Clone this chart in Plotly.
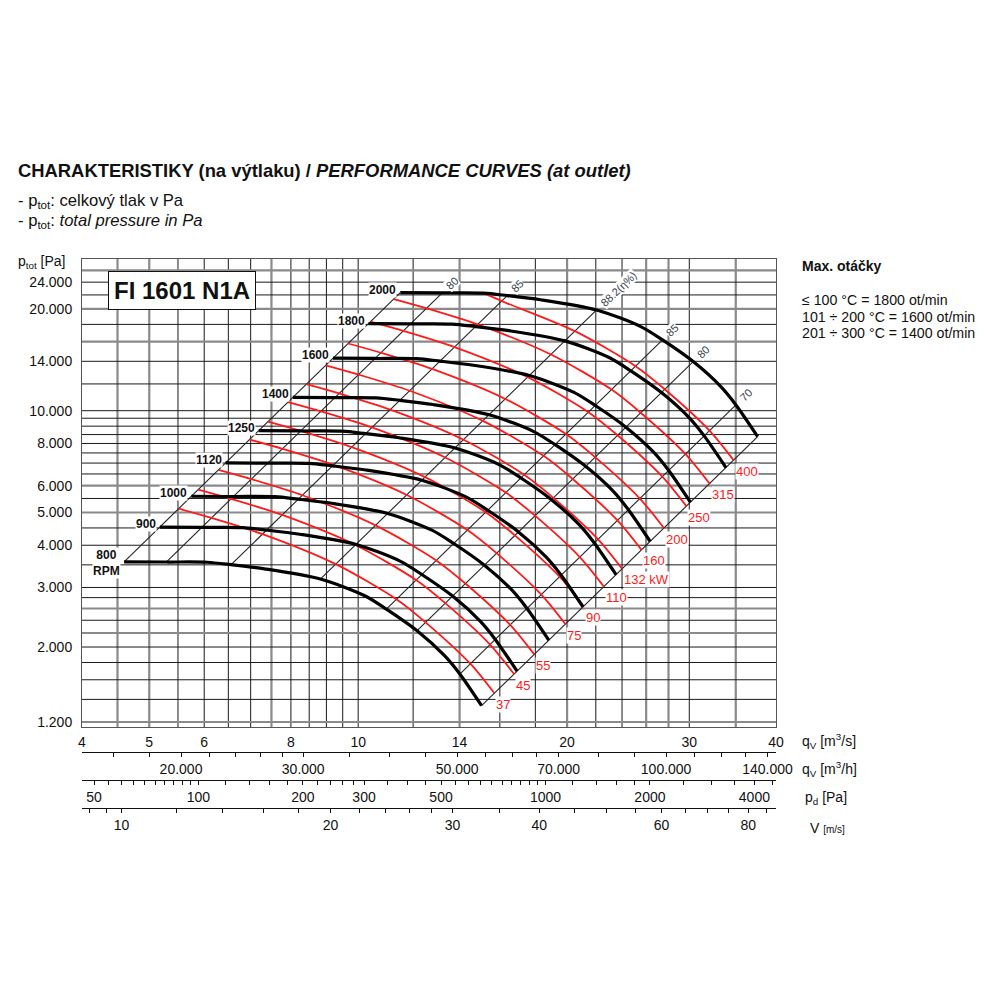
import math
import plotly.graph_objects as go

FONT = "Liberation Sans, Arial, sans-serif"

# ---------------- axis ranges ----------------
Q_MIN, Q_MAX = 4, 40          # m3/s
P_MIN, P_MAX = 1160, 28100    # Pa
DUCT_AREA = 0.456             # m2 (outlet), for velocity / dynamic pressure scales
RHO = 1.2

# ---------------- grid ----------------
grid_q_black = [5.5, 6, 6.5, 7, 8, 8.5, 9, 9.5, 10, 12, 16, 18, 22, 24, 30]
grid_q_gray = [4.5, 5, 7.5, 14, 20, 26, 28, 35]
grid_p_black = [1400, 1600, 1800, 2000, 2400, 2800, 3000, 3500, 4000, 4500, 5500, 6500,
                7000, 7500, 8000, 8500, 9000, 9500, 10000, 12000, 14000, 18000, 22000, 24000]
grid_p_gray = [1200, 2200, 2600, 5000, 6000, 16000, 20000, 26000]

# ---------------- tick labels ----------------
q_ticks = [4, 5, 6, 8, 10, 14, 20, 30, 40]
p_ticks = [1200, 2000, 3000, 4000, 5000, 6000, 8000, 10000, 14000, 20000, 24000]
p_tick_text = ["1.200", "2.000", "3.000", "4.000", "5.000", "6.000", "8.000",
               "10.000", "14.000", "20.000", "24.000"]
qh_ticks = [16000, 18000, 20000, 22000, 24000, 26000, 28000, 30000, 35000, 40000, 45000,
            50000, 55000, 60000, 65000, 70000, 80000, 90000, 100000, 110000, 120000,
            130000, 140000]
qh_labels = {20000: "20.000", 30000: "30.000", 50000: "50.000", 70000: "70.000",
             100000: "100.000", 140000: "140.000"}
pd_ticks = [50, 55, 60, 65, 70, 75, 80, 85, 90, 95, 100, 120, 140, 160, 180, 200, 220, 240,
            260, 280, 300, 350, 400, 450, 500, 550, 600, 650, 700, 750, 800, 850, 900, 950,
            1000, 1200, 1400, 1600, 1800, 2000, 2500, 3000, 3500, 4000, 4500]
pd_labels = {50: "50", 100: "100", 200: "200", 300: "300", 500: "500", 1000: "1000",
             2000: "2000", 4000: "4000"}
v_ticks = [9, 9.5, 10, 12, 14, 16, 18, 20, 22, 24, 26, 28, 30, 35, 40, 45, 50, 55, 60, 65,
           70, 75, 80, 85]
v_labels = {10: "10", 20: "20", 30: "30", 40: "40", 60: "60", 80: "80"}

# ---------------- fan curves (rpm) ----------------
q_800 = [4.60, 5.29, 6.06, 6.56, 7.33, 8.82, 10.22, 10.98, 12.16, 13.32, 14.01, 15.06]
p_800 = [3574, 3568, 3563, 3504, 3406, 3178, 2837, 2590, 2235, 1885, 1664, 1341]
q_900 = [5.18, 5.95, 6.82, 7.38, 8.24, 9.93, 11.49, 12.35, 13.68, 14.99, 15.76, 16.94]
p_900 = [4524, 4516, 4510, 4435, 4311, 4022, 3590, 3278, 2829, 2385, 2106, 1697]
q_1000 = [5.75, 6.61, 7.58, 8.20, 9.16, 11.03, 12.77, 13.73, 15.20, 16.66, 17.51, 18.82]
p_1000 = [5585, 5575, 5568, 5475, 5323, 4965, 4433, 4048, 3493, 2945, 2600, 2096]
q_1120 = [6.44, 7.40, 8.49, 9.18, 10.26, 12.35, 14.30, 15.37, 17.02, 18.65, 19.61, 21.08]
p_1120 = [7006, 6993, 6984, 6868, 6677, 6228, 5560, 5077, 4381, 3694, 3261, 2629]
q_1250 = [7.19, 8.26, 9.48, 10.25, 11.45, 13.79, 15.96, 17.16, 18.99, 20.82, 21.89, 23.53]
p_1250 = [8727, 8711, 8699, 8555, 8316, 7758, 6926, 6324, 5457, 4602, 4063, 3274]
q_1400 = [8.05, 9.25, 10.61, 11.48, 12.82, 15.44, 17.88, 19.22, 21.27, 23.32, 24.51, 26.35]
p_1400 = [10947, 10927, 10912, 10731, 10432, 9731, 8688, 7933, 6845, 5772, 5096, 4107]
q_1600 = [9.20, 10.58, 12.13, 13.12, 14.66, 17.65, 20.43, 21.96, 24.31, 26.65, 28.02, 30.11]
p_1600 = [14298, 14272, 14253, 14016, 13626, 12710, 11347, 10362, 8941, 7539, 6656, 5364]
q_1800 = [10.35, 11.90, 13.64, 14.76, 16.49, 19.85, 22.99, 24.71, 27.35, 29.98, 31.52, 33.88]
p_1800 = [18095, 18063, 18039, 17739, 17245, 16087, 14361, 13114, 11316, 9542, 8424, 6789]
q_2000 = [11.50, 13.22, 15.16, 16.40, 18.32, 22.06, 25.54, 27.45, 30.39, 33.31, 35.02, 37.64]
p_2000 = [22340, 22300, 22270, 21900, 21290, 19860, 17730, 16190, 13970, 11780, 10400, 8382]

rpm_names = ["800<br>RPM", "900", "1000", "1120", "1250", "1400", "1600", "1800", "2000"]
rpm_q = [q_800, q_900, q_1000, q_1120, q_1250, q_1400, q_1600, q_1800, q_2000]
rpm_p = [p_800, p_900, p_1000, p_1120, p_1250, p_1400, p_1600, p_1800, p_2000]

# ---------------- efficiency lines (and range limits) ----------------
eff_names = ["", "80", "85", "88.2(η%)", "85", "80", "70", ""]
eff_q_low = [4.60, 5.29, 6.56, 8.82, 10.98, 12.16, 14.01, 15.06]
eff_p_low = [3574, 3568, 3504, 3178, 2590, 2235, 1664, 1341]
eff_q_top = [11.50, 13.22, 16.40, 22.06, 27.45, 30.39, 35.02, 37.64]
eff_p_top = [22340, 22300, 21900, 19860, 16190, 13970, 10400, 8382]

# ---------------- shaft power lines (kW) ----------------
pw_37_q = [5.511, 6.144, 7.297, 9.283, 11.352, 12.505, 14.508, 15.710]
pw_37_p = [5130, 4817, 4308, 3516, 2769, 2366, 1785, 1460]
pw_45_q = [5.883, 6.559, 7.790, 9.910, 12.119, 13.349, 15.487, 16.771]
pw_45_p = [5846, 5489, 4909, 4007, 3156, 2696, 2034, 1664]
pw_55_q = [6.290, 7.013, 8.329, 10.595, 12.957, 14.273, 16.558, 17.932]
pw_55_p = [6682, 6276, 5612, 4580, 3608, 3082, 2325, 1902]
pw_75_q = [6.975, 7.776, 9.235, 11.749, 14.367, 15.826, 18.361, 19.883]
pw_75_p = [8217, 7716, 6900, 5632, 4436, 3790, 2859, 2339]
pw_90_q = [7.412, 8.263, 9.813, 12.484, 15.267, 16.817, 19.510, 21.128]
pw_90_p = [9279, 8712, 7790, 6359, 5009, 4279, 3228, 2641]
pw_110_q = [7.924, 8.835, 10.492, 13.348, 16.323, 17.981, 20.860, 22.590]
pw_110_p = [10605, 9960, 8906, 7269, 5726, 4892, 3690, 3019]
pw_132_q = [8.421, 9.388, 11.149, 14.184, 17.345, 19.107, 22.166, 24.004]
pw_132_p = [11977, 11246, 10056, 8208, 6465, 5524, 4166, 3409]
pw_160_q = [8.980, 10.011, 11.890, 15.125, 18.497, 20.375, 23.638, 25.598]
pw_160_p = [13620, 12788, 11437, 9334, 7353, 6281, 4738, 3876]
pw_200_q = [9.673, 10.784, 12.807, 16.293, 19.924, 21.948, 25.462, 27.573]
pw_200_p = [15804, 14839, 13269, 10831, 8531, 7288, 5498, 4498]
pw_250_q = [10.420, 11.617, 13.797, 17.552, 21.464, 23.644, 27.430, 29.705]
pw_250_p = [18339, 17220, 15400, 12569, 9901, 8458, 6380, 5220]
pw_315_q = [11.254, 12.547, 14.901, 18.956, 23.181, 25.535, 29.625, 32.081]
pw_315_p = [21391, 20088, 17963, 14661, 11548, 9865, 7442, 6089]
pw_400_q = [15.16, 16.136, 20.527, 25.103, 27.652, 32.080, 34.740]
pw_400_p = [22270, 21064, 17191, 13542, 11569, 8727, 7140]

pw_names = ["37", "45", "55", "75", "90", "110", "132 kW", "160", "200", "250", "315", "400"]
pw_q = [pw_37_q, pw_45_q, pw_55_q, pw_75_q, pw_90_q, pw_110_q, pw_132_q, pw_160_q,
        pw_200_q, pw_250_q, pw_315_q, pw_400_q]
pw_p = [pw_37_p, pw_45_p, pw_55_p, pw_75_p, pw_90_p, pw_110_p, pw_132_p, pw_160_p,
        pw_200_p, pw_250_p, pw_315_p, pw_400_p]

# ---------------- figure ----------------
fig = go.Figure()


def seg_trace(xs, ys, color, width, xaxis="x"):
    return go.Scatter(x=xs, y=ys, mode="lines", line=dict(color=color, width=width),
                      hoverinfo="skip", showlegend=False, xaxis=xaxis)


# grid lines
for vals, col, w in [(grid_q_gray, "#8a8a8a", 2.2), (grid_q_black, "#1a1a1a", 1)]:
    xs, ys = [], []
    for v in vals:
        xs += [v, v, None]
        ys += [P_MIN, P_MAX, None]
    fig.add_trace(seg_trace(xs, ys, col, w))
for vals, col, w in [(grid_p_gray, "#8a8a8a", 2.2), (grid_p_black, "#1a1a1a", 1)]:
    xs, ys = [], []
    for v in vals:
        xs += [Q_MIN, Q_MAX, None]
        ys += [v, v, None]
    fig.add_trace(seg_trace(xs, ys, col, w))

# efficiency / limit lines
xs, ys = [], []
for i in range(len(eff_names)):
    xs += [eff_q_low[i], eff_q_top[i], None]
    ys += [eff_p_low[i], eff_p_top[i], None]
fig.add_trace(seg_trace(xs, ys, "#222222", 1.1))

# power lines
for q, p in zip(pw_q, pw_p):
    fig.add_trace(go.Scatter(x=q, y=p, mode="lines",
                             line=dict(color="#ff1a1a", width=1.8, shape="spline", smoothing=0.8),
                             hoverinfo="skip", showlegend=False))

# rpm curves
for q, p in zip(rpm_q, rpm_p):
    fig.add_trace(go.Scatter(x=q, y=p, mode="lines",
                             line=dict(color="#000000", width=3.2, shape="spline", smoothing=0.8),
                             hoverinfo="skip", showlegend=False))

# dummy traces for the secondary scales
for ax, val in [("x2", 20000), ("x3", 100), ("x4", 10)]:
    fig.add_trace(go.Scatter(x=[val], y=[2000], mode="markers", marker=dict(opacity=0),
                             hoverinfo="skip", showlegend=False, xaxis=ax, yaxis="y"))

ann = []
L10 = math.log10

# rpm labels
for name, q, p in zip(rpm_names, rpm_q, rpm_p):
    ann.append(dict(x=L10(q[0]), y=L10(p[0]), xref="x", yref="y", text="<b>%s</b>" % name,
                    showarrow=False, xanchor="right", yanchor="middle", xshift=-3,
                    yshift=3 if "RPM" not in name else -1,
                    font=dict(family=FONT, size=12, color="#111"), bgcolor="white",
                    borderpad=0))

# power labels
for name, q, p in zip(pw_names, pw_q, pw_p):
    ann.append(dict(x=L10(q[-1]), y=L10(p[-1]), xref="x", yref="y", text=name,
                    showarrow=False, xanchor="left", yanchor="middle", xshift=1, yshift=-11,
                    font=dict(family=FONT, size=13, color="#ff1a1a"), bgcolor="white",
                    borderpad=0))

# efficiency labels
for name, q, p in zip(eff_names, eff_q_top, eff_p_top):
    if not name:
        continue
    ann.append(dict(x=L10(q), y=L10(p), xref="x", yref="y", text=name, textangle=-44,
                    showarrow=False, xanchor="left", yanchor="bottom", xshift=0, yshift=0,
                    font=dict(family=FONT, size=11, color="#3a3f4d"), bgcolor="white",
                    borderpad=0))


def paper_text(px, py, text, size, xanchor="left", color="#111", **kw):
    d = dict(x=px / 1000, y=1 - py / 1000, xref="paper", yref="paper", text=text,
             showarrow=False, xanchor=xanchor, yanchor="middle",
             font=dict(family=FONT, size=size, color=color))
    d.update(kw)
    return d


ann += [
    paper_text(16, 170, "<b>CHARAKTERISTIKY (na výtlaku) / <i>PERFORMANCE CURVES (at outlet)</i></b>", 18.4),
    paper_text(16, 201, "- p<sub>tot</sub>: celkový tlak v Pa", 16.6),
    paper_text(16, 221, "- p<sub>tot</sub>: <i>total pressure in Pa</i>", 16.6),
    paper_text(16, 262, "p<sub>tot</sub> [Pa]", 14),
    paper_text(182, 291, "<b>FI 1601 N1A</b>", 24, xanchor="center", bgcolor="white",
               bordercolor="#111", borderwidth=1, borderpad=5),
    paper_text(800, 266, "<b>Max. otáčky</b>", 14),
    paper_text(800, 300, "≤ 100 °C = 1800 ot/min", 14.2),
    paper_text(800, 317, "101 ÷ 200 °C = 1600 ot/min", 14.2),
    paper_text(800, 333, "201 ÷ 300 °C = 1400 ot/min", 14.2),
    paper_text(800, 741, "q<sub>V</sub> [m<sup>3</sup>/s]", 14),
    paper_text(800, 769, "q<sub>V</sub> [m<sup>3</sup>/h]", 14),
    paper_text(803, 798, "p<sub>d</sub> [Pa]", 14),
    paper_text(808, 828, "V <span style='font-size:10px'>[m/s]</span>", 14),
]

x_dom = [0.082, 0.776]
tick_font = dict(family=FONT, size=14, color="#111")


def sec_axis(pos, rng, ticks, labels):
    return dict(type="log", range=[L10(rng[0]), L10(rng[1])], overlaying="x", anchor="free",
                position=pos, side="bottom", showline=True, linecolor="#111", linewidth=1,
                ticks="outside", ticklen=4, tickcolor="#111", tickwidth=1,
                tickvals=ticks, ticktext=[labels.get(t, "") for t in ticks],
                showgrid=False, zeroline=False, tickfont=tick_font, fixedrange=True,
                automargin=False)


v_min, v_max = Q_MIN / DUCT_AREA, Q_MAX / DUCT_AREA
fig.update_layout(
    width=1000, height=1000, autosize=False,
    margin=dict(l=0, r=0, t=0, b=0, pad=0),
    paper_bgcolor="white", plot_bgcolor="white",
    showlegend=False,
    xaxis=dict(type="log", domain=x_dom, range=[L10(Q_MIN), L10(Q_MAX)],
               showgrid=False, zeroline=False, showline=True, mirror=True,
               linecolor="#555", linewidth=1, ticks="", tickvals=q_ticks,
               ticktext=[str(t) for t in q_ticks], tickfont=tick_font, ticklabelstandoff=2,
               automargin=False),
    yaxis=dict(type="log", domain=[0.273, 0.741], range=[L10(P_MIN), L10(P_MAX)],
               showgrid=False, zeroline=False, showline=True, mirror=True,
               linecolor="#555", linewidth=1, ticks="", tickvals=p_ticks,
               ticktext=p_tick_text, tickfont=tick_font, ticklabelstandoff=6,
               automargin=False),
    xaxis2=sec_axis(0.248, (Q_MIN * 3600, Q_MAX * 3600), qh_ticks, qh_labels),
    xaxis3=sec_axis(0.220, (0.5 * RHO * v_min ** 2, 0.5 * RHO * v_max ** 2), pd_ticks, pd_labels),
    xaxis4=sec_axis(0.192, (v_min, v_max), v_ticks, v_labels),
    annotations=ann,
)

fig.write_html(
    "out.html",
    config={"displayModeBar": False},
    post_script="document.body.style.margin='0px';"
                "document.body.style.overflow='hidden';"
                "document.documentElement.style.overflow='hidden';",
)
